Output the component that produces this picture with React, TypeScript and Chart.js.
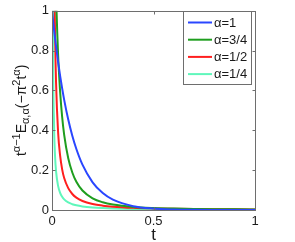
import React, { useEffect, useRef } from "react";
import { Chart, registerables } from "chart.js";

Chart.register(...registerables);

// ---- data ----
const tValues = [0, 0.002, 0.005, 0.01, 0.015, 0.02, 0.03, 0.04, 0.05, 0.06, 0.08, 0.1, 0.12, 0.15, 0.2, 0.25, 0.3, 0.4, 0.5, 0.6, 0.7, 0.8, 0.9, 1];
const alphaOne = [1, 0.9805, 0.9518, 0.906, 0.8624, 0.8209, 0.7437, 0.6738, 0.6105, 0.5531, 0.454, 0.3727, 0.306, 0.2275, 0.1389, 0.0848, 0.0518, 0.0193, 0.0072, 0.0027, 0.001, 0.0004, 0.0001, 0.0001];
const alphaThreeQuarters = [null, 3.395, 2.385, 1.697, 1.329, 1.087, 0.7815, 0.594, 0.4676, 0.3775, 0.2596, 0.1882, 0.1418, 0.0979, 0.0588, 0.0387, 0.0273, 0.0155, 0.01, 0.007, 0.0052, 0.004, 0.0032, 0.0026];
const alphaHalf = [null, 6.23, 2.78, 1.386, 0.8895, 0.639, 0.391, 0.2725, 0.2042, 0.1605, 0.1096, 0.0802, 0.0621, 0.0454, 0.0302, 0.0219, 0.0168, 0.011, 0.008, 0.0061, 0.0048, 0.004, 0.0033, 0.0029];
const alphaQuarter = [null, 2.66, 0.955, 0.4326, 0.2709, 0.194, 0.1209, 0.0862, 0.0663, 0.0535, 0.038, 0.0292, 0.0235, 0.018, 0.0127, 0.0097, 0.0078, 0.0055, 0.0042, 0.0034, 0.0028, 0.0024, 0.0021, 0.0018];

const seriesLabels = ["α=1", "α=3/4", "α=1/2", "α=1/4"];
const xTicks = [0, 0.5, 1];
const yTicks = [0, 0.2, 0.4, 0.6, 0.8, 1];
const xTitle = "t";
const yTitlePieces = [
  { text: "t", script: 0 },
  { text: "α−1", script: 1 },
  { text: "E", script: 0 },
  { text: "α,α", script: -1 },
  { text: "(−π", script: 0 },
  { text: "2", script: 1 },
  { text: "t", script: 0 },
  { text: "α", script: 1 },
  { text: ")", script: 0 },
];

// ---- styles ----
const FONT = '"Liberation Sans", Arial, Helvetica, sans-serif';
const COLORS = ["#2a46ff", "#1f9e1f", "#ff1f1f", "#5ff7bb"];
const AXIS_COLOR = "#6e6e6e";
const TEXT_COLOR = "#1a1a1a";

const seriesValues = [alphaOne, alphaThreeQuarters, alphaHalf, alphaQuarter];

function toPoints(values: (number | null)[]) {
  const pts: { x: number; y: number }[] = [];
  values.forEach((v, i) => {
    if (v !== null) pts.push({ x: tValues[i], y: v });
  });
  return pts;
}

const matlabPlugin = {
  id: "matlabAxes",
  afterDatasetsDraw(chart: any) {
    const { ctx, chartArea: a, scales } = chart;
    const xs = scales.x;
    const ys = scales.y;
    ctx.save();
    // box
    ctx.strokeStyle = AXIS_COLOR;
    ctx.lineWidth = 1;
    const L = Math.round(a.left) + 0.5;
    const R = Math.round(a.right) + 0.5;
    const T = Math.round(a.top) + 0.5;
    const B = Math.round(a.bottom) + 0.5;
    ctx.strokeRect(L, T, R - L, B - T);
    ctx.beginPath();
    yTicks.forEach((v) => {
      const py = Math.round(ys.getPixelForValue(v)) + 0.5;
      ctx.moveTo(L, py);
      ctx.lineTo(L + 3, py);
      ctx.moveTo(R, py);
      ctx.lineTo(R - 3, py);
    });
    xTicks.forEach((v) => {
      const px = Math.round(xs.getPixelForValue(v)) + 0.5;
      ctx.moveTo(px, B);
      ctx.lineTo(px, B - 3);
      ctx.moveTo(px, T);
      ctx.lineTo(px, T + 3);
    });
    ctx.stroke();

    // legend
    const lx = 183.5;
    const ly = 11.5;
    const lw = 68;
    const lh = 73;
    ctx.fillStyle = "#ffffff";
    ctx.fillRect(lx, ly, lw, lh);
    ctx.strokeStyle = AXIS_COLOR;
    ctx.strokeRect(lx, ly, lw, lh);
    ctx.font = `13px ${FONT}`;
    ctx.textBaseline = "middle";
    ctx.textAlign = "left";
    seriesLabels.forEach((lab, i) => {
      const yy = 22.5 + i * 17.2;
      ctx.strokeStyle = COLORS[i];
      ctx.lineWidth = 2;
      ctx.beginPath();
      ctx.moveTo(188, yy);
      ctx.lineTo(212, yy);
      ctx.stroke();
      ctx.fillStyle = TEXT_COLOR;
      ctx.fillText(lab, 214, yy + 0.5);
    });

    // x title
    ctx.fillStyle = TEXT_COLOR;
    ctx.font = `17px ${FONT}`;
    ctx.textAlign = "center";
    ctx.textBaseline = "alphabetic";
    ctx.fillText(xTitle, (a.left + a.right) / 2, 240);

    // y title with scripts
    const mainSize = 14;
    const scriptSize = 11;
    let total = 0;
    const widths = yTitlePieces.map((p) => {
      ctx.font = `${p.script ? scriptSize : mainSize}px ${FONT}`;
      const w = ctx.measureText(p.text).width;
      total += w;
      return w;
    });
    ctx.translate(26, (a.top + a.bottom) / 2);
    ctx.rotate(-Math.PI / 2);
    ctx.textAlign = "left";
    let cx = -total / 2;
    yTitlePieces.forEach((p, i) => {
      ctx.font = `${p.script ? scriptSize : mainSize}px ${FONT}`;
      const dy = p.script === 1 ? -6 : p.script === -1 ? 3 : 0;
      ctx.fillText(p.text, cx, dy);
      cx += widths[i];
    });
    ctx.restore();
  },
};

export default function App() {
  const canvasRef = useRef<HTMLCanvasElement | null>(null);

  useEffect(() => {
    if (!canvasRef.current) return;
    const chart = new Chart(canvasRef.current, {
      type: "line",
      data: {
        datasets: seriesValues.map((vals, i) => ({
          label: seriesLabels[i],
          data: toPoints(vals),
          borderColor: COLORS[i],
          backgroundColor: COLORS[i],
          borderWidth: 2,
          pointRadius: 0,
          cubicInterpolationMode: "monotone" as const,
          fill: false,
        })),
      },
      options: {
        responsive: false,
        animation: false,
        devicePixelRatio: 1,
        layout: { padding: { left: 0, top: 7, right: 40, bottom: 0 } },
        plugins: {
          legend: { display: false },
          tooltip: { enabled: false },
        },
        scales: {
          x: {
            type: "linear",
            min: 0,
            max: 1,
            grid: { display: false, drawTicks: false },
            border: { display: false },
            afterBuildTicks: (scale: any) => {
              scale.ticks = xTicks.map((v) => ({ value: v }));
            },
            afterFit: (scale: any) => {
              scale.height = 32;
            },
            ticks: {
              padding: 4,
              color: TEXT_COLOR,
              font: { family: FONT, size: 13 },
              maxRotation: 0,
              callback: (v: any) => String(v),
            },
          },
          y: {
            type: "linear",
            min: 0,
            max: 1,
            grid: { display: false, drawTicks: false },
            border: { display: false },
            afterBuildTicks: (scale: any) => {
              scale.ticks = yTicks.map((v) => ({ value: v }));
            },
            afterFit: (scale: any) => {
              scale.width = 52;
            },
            ticks: {
              padding: 3,
              color: TEXT_COLOR,
              font: { family: FONT, size: 13 },
              callback: (v: any) => String(v),
            },
          },
        },
      },
      plugins: [matlabPlugin],
    });
    return () => chart.destroy();
  }, []);

  return (
    <div style={{ position: "fixed", left: 0, top: 0, width: 295, height: 242, background: "#fff" }}>
      <canvas ref={canvasRef} width={295} height={242} style={{ display: "block" }} />
    </div>
  );
}
